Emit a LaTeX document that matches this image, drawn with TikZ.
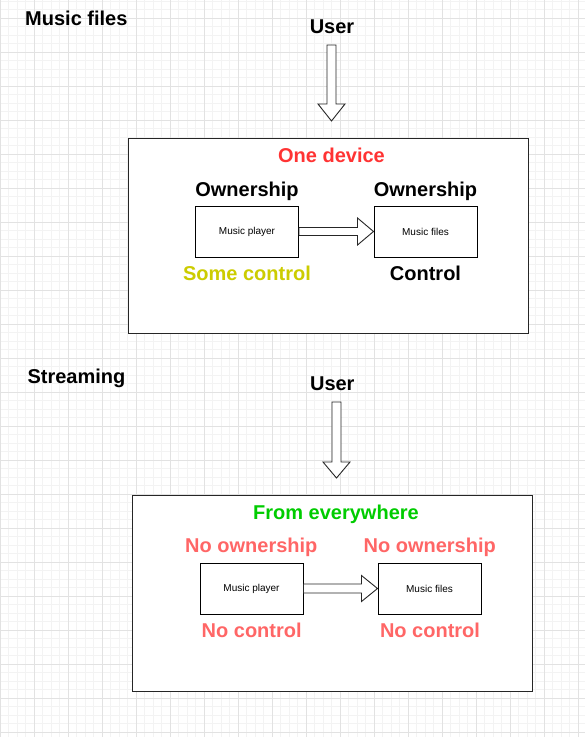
\documentclass[tikz,border=0pt]{standalone}
\usepackage{fontspec}
\setmainfont{Liberation Sans}
\usetikzlibrary{calc}
\definecolor{gridmajor}{HTML}{E2E2E2}
\definecolor{gridminor}{HTML}{F3F3F3}
\definecolor{redA}{HTML}{FF3333}
\definecolor{redB}{HTML}{FF6666}
\definecolor{greenA}{HTML}{00CC00}
\definecolor{oliveA}{HTML}{CCCC00}
\begin{document}
\begin{tikzpicture}[x=1pt,y=-1pt,
  big/.style={font=\fontsize{20}{24}\selectfont\bfseries, inner sep=0pt, anchor=base},
  smallbox/.style={draw=black, fill=white, line width=1pt, minimum width=103pt, minimum height=51pt, inner sep=0pt, font=\fontsize{10}{12}\selectfont},
  framebox/.style={draw=black!85, fill=white, line width=1pt, minimum width=400pt, minimum height=195pt, inner sep=0pt},
  blockarrow/.style={draw=black!85, fill=white, line width=0.9pt, line join=miter}]
\useasboundingbox (0,0) rectangle (585,737);
\fill[white] (0,0) rectangle (585,737);
% grid
\foreach \x in {0,8.5,...,585} \draw[gridminor, line width=0.8pt] (\x,0) -- (\x,737);
\foreach \y in {1,9.5,...,737} \draw[gridminor, line width=0.8pt] (0,\y) -- (585,\y);
\foreach \x in {0,34,...,585} \draw[gridmajor, line width=0.9pt] (\x,0) -- (\x,737);
\foreach \y in {18,52,...,737} \draw[gridmajor, line width=0.9pt] (0,\y) -- (585,\y);
% frames
\node[framebox] (f1) at (328,235.5) {};
\node[framebox, minimum height=196pt] (f2) at (332,593) {};
% titles
\node[big, anchor=base west] (t1) at (25,25.5) {Music files};
\node[big, anchor=base west] (t2) at (27.3,383) {Streaming};
% top section
\node[big] (user1) at (332,33.5) {User};
\node[big, text=redA] (od) at (331.5,162) {One device};
\node[big] (own1) at (247,196) {Ownership};
\node[big] (own2) at (425.5,196) {Ownership};
\node[big, text=oliveA] (sc) at (247,280.5) {Some control};
\node[big] (ctl) at (425.5,280.5) {Control};
\node[smallbox] (mp1) at (247,231.5) {Music player};
\node[smallbox] (mf1) at (425.5,231.5) {Music files};
% bottom section
\node[big] (user2) at (332.3,390.5) {User};
\node[big, text=greenA] (fe) at (336,519) {From everywhere};
\node[big, text=redB] (no1) at (251.3,552.7) {No ownership};
\node[big, text=redB] (no2) at (429.7,552.7) {No ownership};
\node[big, text=redB] (nc1) at (251.7,637.7) {No control};
\node[big, text=redB] (nc2) at (430,637.7) {No control};
\node[smallbox] (mp2) at (251.5,588.5) {Music player};
\node[smallbox] (mf2) at (429.5,588.5) {Music files};
% down arrows
\coordinate (u1s) at (331.5,45);
\coordinate (u1e) at (331.5,121);
\coordinate (u2s) at (336.5,402);
\coordinate (u2e) at (336.5,478);
\draw[blockarrow] ($(u1s)+(-4.5,0)$) -- ($(u1e)+(-4.5,-17)$) -- ($(u1e)+(-13.5,-17)$) -- (u1e) -- ($(u1e)+(13.5,-17)$) -- ($(u1e)+(4.5,-17)$) -- ($(u1s)+(4.5,0)$) -- cycle;
\draw[blockarrow] ($(u2s)+(-4.5,0)$) -- ($(u2e)+(-4.5,-16)$) -- ($(u2e)+(-13.5,-16)$) -- (u2e) -- ($(u2e)+(13.5,-16)$) -- ($(u2e)+(4.5,-16)$) -- ($(u2s)+(4.5,0)$) -- cycle;
% horizontal arrows
\draw[blockarrow] ($(mp1.east)+(0,-4)$) -- ($(mf1.west)+(-16,-4)$) -- ($(mf1.west)+(-16,-13.5)$) -- (mf1.west) -- ($(mf1.west)+(-16,13.5)$) -- ($(mf1.west)+(-16,4)$) -- ($(mp1.east)+(0,4)$) -- cycle;
\draw[blockarrow] ($(mp2.east)+(0,-4.5)$) -- ($(mf2.west)+(-16,-4.5)$) -- ($(mf2.west)+(-16,-13)$) -- (mf2.west) -- ($(mf2.west)+(-16,13)$) -- ($(mf2.west)+(-16,4.5)$) -- ($(mp2.east)+(0,4.5)$) -- cycle;
\end{tikzpicture}
\end{document}
